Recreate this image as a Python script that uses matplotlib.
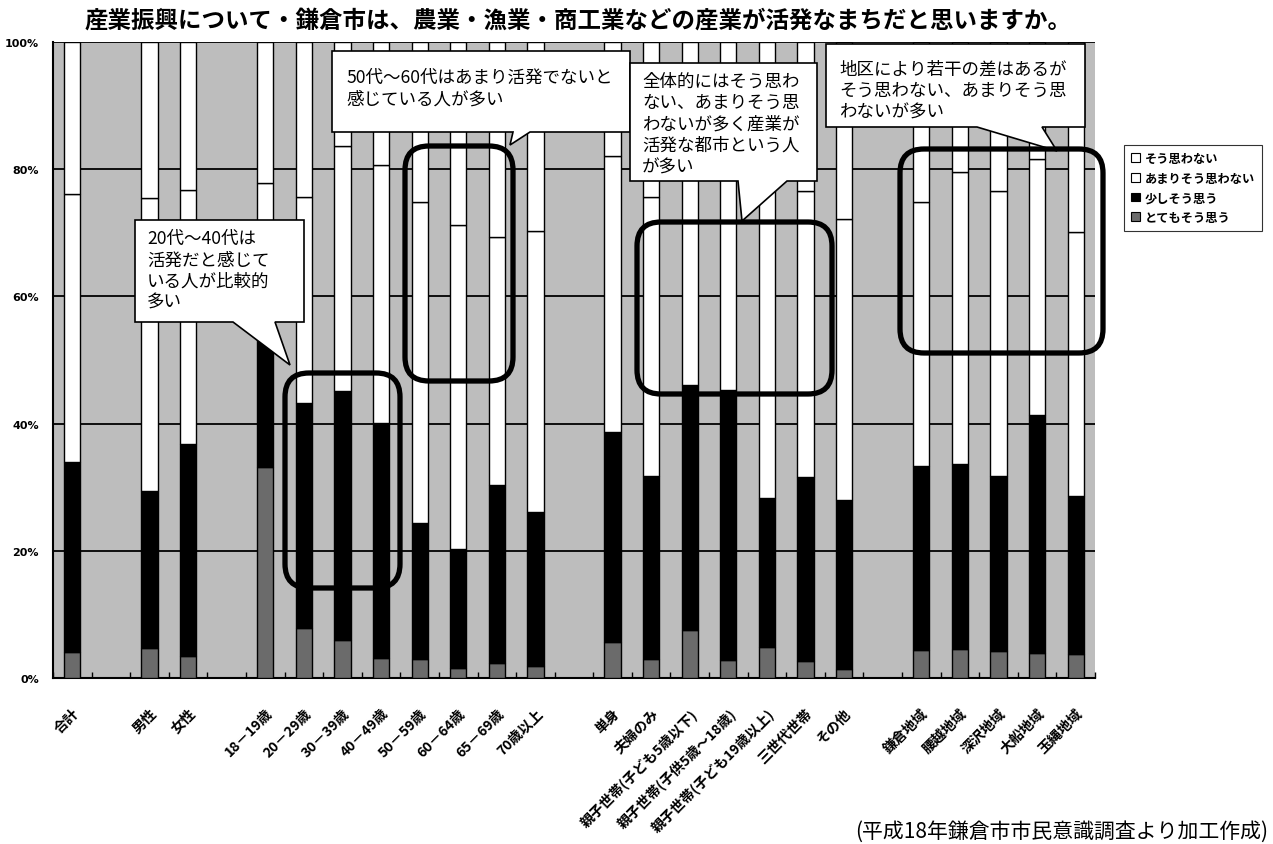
import numpy as np
import matplotlib
matplotlib.use("Agg")
import matplotlib.pyplot as plt
from matplotlib.patches import FancyBboxPatch, Polygon, Patch
from matplotlib.transforms import IdentityTransform

plt.rcParams['font.family'] = ['Noto Sans CJK JP', 'DejaVu Sans']

# empty strings are the blank slots between the groups
categories = ['合計', '',
              '男性', '女性', '',
              '18－19歳', '20－29歳', '30－39歳', '40－49歳', '50－59歳', '60－64歳', '65－69歳', '70歳以上', '',
              '単身', '夫婦のみ', '親子世帯(子ども5歳以下)', '親子世帯(子供5歳～18歳)', '親子世帯(子ども19歳以上)',
              '三世代世帯', 'その他', '',
              '鎌倉地域', '腰越地域', '深沢地域', '大船地域', '玉縄地域']
nan = np.nan
# percent of answers, bottom to top
totemo = [4.1, nan, 4.7, 3.5, nan, 33.2, 7.9, 5.9, 3.1, 3.0, 1.5, 2.4, 1.9, nan,
          5.7, 3.0, 7.5, 2.8, 4.8, 2.7, 1.4, nan, 4.4, 4.5, 4.3, 3.9, 3.8]
sukoshi = [29.8, nan, 24.7, 33.3, nan, 21.8, 35.3, 39.2, 37.0, 21.4, 18.8, 28.0, 24.2, nan,
           33.0, 28.7, 38.5, 42.5, 23.5, 28.9, 26.6, nan, 28.9, 29.1, 27.5, 37.5, 24.8]
amari = [42.2, nan, 46.1, 40.0, nan, 22.8, 32.5, 38.6, 40.5, 50.5, 51.0, 39.0, 44.2, nan,
         43.3, 43.9, 40.0, 42.7, 51.7, 45.0, 44.1, nan, 41.6, 45.9, 44.8, 40.2, 41.6]
sou = [23.9, nan, 24.5, 23.2, nan, 22.2, 24.3, 16.3, 19.4, 25.1, 28.7, 30.6, 29.7, nan,
       18.0, 24.4, 14.0, 12.0, 20.0, 23.4, 27.9, nan, 25.1, 20.5, 23.4, 18.4, 29.8]
series_names = ['とてもそう思う', '少しそう思う', 'あまりそう思わない', 'そう思わない']
series_colors = ['#6b6b6b', '#000000', '#ffffff', '#ffffff']

title = '産業振興について・鎌倉市は、農業・漁業・商工業などの産業が活発なまちだと思いますか。'
source = '(平成18年鎌倉市市民意識調査より加工作成)'

W, H = 1273, 845
fig = plt.figure(figsize=(W / 100, H / 100), dpi=100)
ax = fig.add_axes([53 / W, 1 - 679 / H, (1095 - 53) / W, (679 - 43) / H])
ax.set_facecolor('#bdbdbd')

x = np.arange(len(categories))
keep = ~np.isnan(np.array(totemo))
bottom = np.zeros(len(categories))
for vals, color in zip([totemo, sukoshi, amari, sou], series_colors):
    v = np.array(vals)
    ax.bar(x[keep], v[keep], bottom=bottom[keep], width=0.42, color=color,
           edgecolor='black', linewidth=1.0, zorder=3)
    bottom = bottom + np.nan_to_num(v)

ax.set_xlim(-0.5, len(categories) - 0.5)
ax.set_ylim(0, 100)
ax.set_yticks(range(0, 101, 20))
ax.set_yticklabels([f'{v}%' for v in range(0, 101, 20)], fontsize=8, fontweight='bold',
                   family=['DejaVu Sans'])
ax.yaxis.grid(True, color='black', linewidth=1.3)
ax.set_axisbelow(True)
ax.tick_params(axis='y', length=0, pad=10)
ax.set_xticks(x)
ax.set_xticklabels(categories, rotation=45, ha='right', va='top', rotation_mode='anchor',
                   fontsize=10.1, fontweight='bold')
ax.set_xticks(np.arange(-0.5, len(categories), 1), minor=True)
ax.tick_params(axis='x', which='major', length=0, pad=20)
ax.tick_params(axis='x', which='minor', direction='in', length=4, width=1)
for side in ['top', 'right']:
    ax.spines[side].set_visible(False)
for side in ['left', 'bottom']:
    ax.spines[side].set_linewidth(1.5)

fig.text(578 / W, 1 - 21 / H, title, ha='center', va='center', fontsize=16.9, fontweight='bold')
fig.text(1268 / W, 1 - 832 / H, source, ha='right', va='center', fontsize=15)

# legend, top to bottom as in the original
handles = [Patch(facecolor=c, edgecolor='black', linewidth=0.8)
           for c in series_colors[::-1]]
fig.legend(handles, series_names[::-1], loc='upper left',
           bbox_to_anchor=(1118 / W, 1 - 140 / H), frameon=True,
           fancybox=False, edgecolor='black', handlelength=0.75, handleheight=0.75,
           handletextpad=0.4, labelspacing=0.55, borderpad=0.55,
           prop={'weight': 'bold', 'size': 8.8})
fig.legends[0].get_frame().set_linewidth(0.8)


def P(px, py):
    return (px, H - py)


# callouts: box (left, top, right, bottom), pointer (base left, base right, tip), text lines
callouts = [
    ((135, 221, 304, 323), (233, 275, (290, 366)), 147, 239,
     ['20代～40代は', '活発だと感じて', 'いる人が比較的', '多い']),
    ((332, 52, 630, 133), (513, 530, (510, 146)), 346, 78,
     ['50代～60代はあまり活発でないと', '感じている人が多い']),
    ((630, 64, 817, 182), (738, 787, (742, 222)), 642, 82,
     ['全体的にはそう思わ', 'ない、あまりそう思', 'わないが多く産業が', '活発な都市という人', 'が多い']),
    ((826, 45, 1085, 128), (977, 1042, (1057, 152)), 839, 70,
     ['地区により若干の差はあるが', 'そう思わない、あまりそう思', 'わないが多い']),
]
for (l, t, r, b), (bl, br, tip), tx, ty, lines in callouts:
    pts = [P(l, t), P(r, t), P(r, b), P(br, b), P(*tip), P(bl, b), P(l, b)]
    fig.add_artist(Polygon(pts, closed=True, transform=IdentityTransform(),
                           facecolor='white', edgecolor='black', linewidth=1.2, zorder=5))
    for i, line in enumerate(lines):
        fig.text(tx / W, 1 - (ty + i * 21.3) / H, line, ha='left', va='center',
                 fontsize=12.6, zorder=6)

# highlight frames (left, top, right, bottom)
frames = [(285, 374, 400, 589), (405, 147, 513, 382), (637, 223, 832, 395), (900, 150, 1103, 354)]
for l, t, r, b in frames:
    fig.add_artist(FancyBboxPatch(P(l, b), r - l, b - t,
                                  boxstyle='round,pad=0,rounding_size=24',
                                  transform=IdentityTransform(), facecolor='none',
                                  edgecolor='black', linewidth=3.8, zorder=7))

fig.savefig('out.png', dpi=100)
